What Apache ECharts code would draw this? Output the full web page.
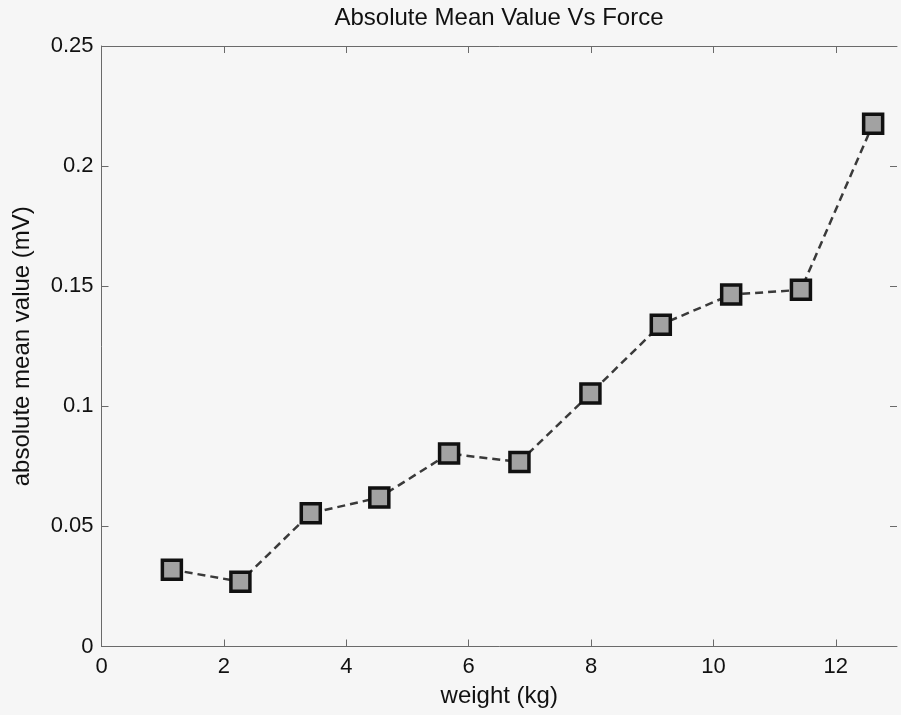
<!DOCTYPE html>
<html>
<head>
<meta charset="utf-8">
<script src="https://cdn.jsdelivr.net/npm/echarts@6/dist/echarts.min.js"></script>
<style>
html,body{margin:0;padding:0;background:#f6f6f6;}
#c{width:901px;height:715px;}
</style>
</head>
<body>
<div id="c"></div>
<script>
const weights = [1.15, 2.27, 3.42, 4.54, 5.68, 6.83, 7.99, 9.14, 10.29, 11.43, 12.61];
const meanValues = [0.0320, 0.0270, 0.0555, 0.0620, 0.0803, 0.0768, 0.1053, 0.1340, 0.1465, 0.1485, 0.2176];
const xTicks = [0, 2, 4, 6, 8, 10, 12];
const yTicks = [0, 0.05, 0.1, 0.15, 0.2, 0.25];
const titleText = 'Absolute Mean Value Vs Force';
const xName = 'weight (kg)';
const yName = 'absolute mean value (mV)';

const points = weights.map((w, i) => [w, meanValues[i]]);
const font = 'Liberation Sans, Arial, sans-serif';
const axisColor = '#6a6a6a';
const tickFont = 22;
const labelFont = 24;

const chart = echarts.init(document.getElementById('c'), null, {renderer: 'canvas'});

function xAxisCfg(pos, showLabels) {
  return {
    type: 'value', min: 0, max: 13,
    position: pos,
    name: showLabels ? xName : '', nameLocation: 'middle', nameGap: 38,
    nameTextStyle: {color: '#111', fontSize: labelFont, fontFamily: font, verticalAlign: 'top'},
    axisLine: {show: true, onZero: false, lineStyle: {color: axisColor, width: 1}},
    axisTick: {show: true, inside: true, length: 7, customValues: xTicks, lineStyle: {color: axisColor}},
    axisLabel: {show: showLabels, color: '#111', fontSize: tickFont, fontFamily: font, margin: 9,
      customValues: xTicks},
    splitLine: {show: false}
  };
}
function yAxisCfg(pos, showLabels) {
  return {
    type: 'value', min: 0, max: 0.25,
    position: pos,
    name: showLabels ? yName : '', nameLocation: 'middle', nameGap: 67,
    nameTextStyle: {color: '#111', fontSize: labelFont, fontFamily: font},
    axisLine: {show: showLabels, onZero: false, lineStyle: {color: axisColor, width: 1}},
    axisTick: {show: true, inside: true, length: 7, customValues: yTicks, lineStyle: {color: axisColor}},
    axisLabel: {show: showLabels, color: '#111', fontSize: tickFont, fontFamily: font, margin: 8,
      customValues: yTicks,
      formatter: v => (v === 0 ? '0' : String(+v.toFixed(2)))},
    splitLine: {show: false}
  };
}

chart.setOption({
  backgroundColor: '#f6f6f6',
  animation: false,
  graphic: [{
    type: 'text',
    x: 499, y: 18,
    style: {
      text: titleText,
      fill: '#111',
      font: labelFont + 'px ' + font,
      textAlign: 'center',
      textVerticalAlign: 'middle'
    }
  }],
  grid: {left: 101.5, top: 46, right: 4, bottom: 68.5},
  xAxis: [xAxisCfg('bottom', true), xAxisCfg('top', false)],
  yAxis: [yAxisCfg('left', true), yAxisCfg('right', false)],
  series: [{
    type: 'line',
    data: points,
    xAxisIndex: 0, yAxisIndex: 0,
    symbol: 'rect',
    symbolSize: 19,
    lineStyle: {color: '#3a3a3a', width: 2.5, type: [8, 5]},
    itemStyle: {color: '#a2a2a2', borderColor: '#111', borderWidth: 3.5},
    emphasis: {disabled: true},
    z: 3
  }]
});
</script>
</body>
</html>
